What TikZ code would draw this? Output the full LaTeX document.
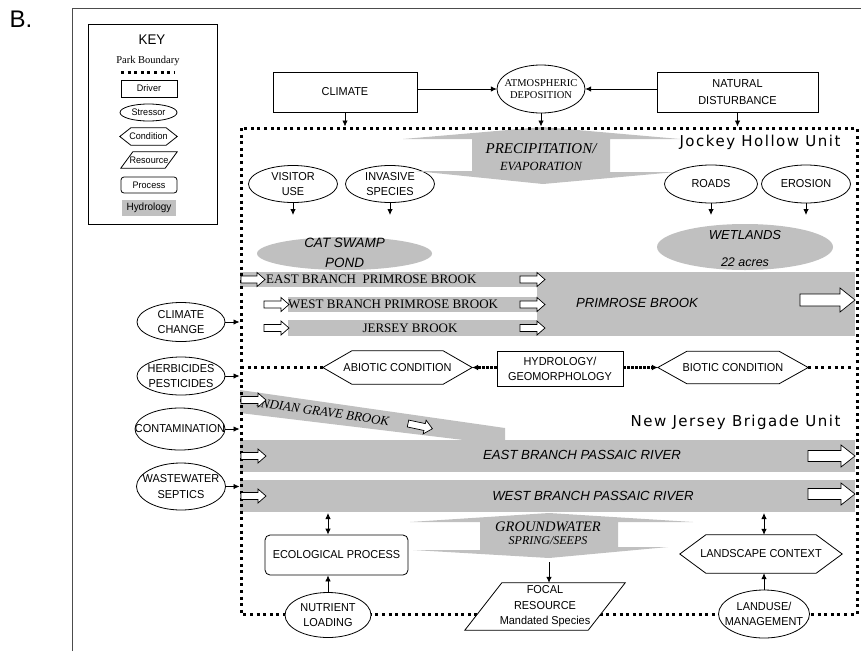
\documentclass[tikz,border=0pt]{standalone}
\usepackage{fontspec}
\setmainfont{Liberation Serif}
\setsansfont{Liberation Sans}
\newfontfamily\labfont[FakeStretch=0.95]{Liberation Sans}
\newfontfamily\unitfont[LetterSpace=10]{DejaVu Sans}
\usetikzlibrary{arrows.meta,calc}
\definecolor{hydro}{RGB}{192,192,192}

\tikzset{
  lab/.style={font=\labfont\fontsize{11.5}{15.5}\selectfont, align=center, inner sep=0pt},
  keylab/.style={font=\labfont\fontsize{9.5}{11}\selectfont},
  outline/.style={draw=black, line width=0.8pt, fill=white},
  driverbox/.style={outline, lab},
  procbox/.style={outline, lab, rounded corners=5pt},
  tip/.style={-{Latex[length=6pt,width=5.5pt]}, line width=0.8pt},
  twotip/.style={{Latex[length=6pt,width=5.5pt]}-{Latex[length=6pt,width=5.5pt]}, line width=0.8pt},
  boundary/.style={line width=3pt, dash pattern=on 3pt off 3.6pt},
  linkdots/.style={line width=2.4pt, dash pattern=on 2.4pt off 1.6pt, -{Latex[length=6pt,width=6pt]}},
  water/.style={fill=hydro, draw=none},
  flowarrow/.style={draw=black, line width=0.7pt, fill=white},
  brook/.style={font=\rmfamily\fontsize{13}{14}\selectfont, inner sep=0pt},
  river/.style={font=\sffamily\itshape\fontsize{13.2}{15}\selectfont, inner sep=0pt},
  pondlab/.style={font=\sffamily\itshape\fontsize{13.5}{20}\selectfont, align=center, inner sep=0pt},
  skylab/.style={font=\rmfamily\itshape\fontsize{15}{17}\selectfont, inner sep=0pt},
  unitlab/.style={font=\unitfont\fontsize{15}{17}\selectfont, inner sep=0pt},
}

% stressor: style, name, cx, cy, rx, ry, text
\newcommand\stressoval[7]{%
  \path[outline] (#3,#4) ellipse [x radius=#5pt, y radius=#6pt];
  \node[lab,#1, minimum width=2*#5pt, minimum height=2*#6pt] (#2) at (#3,#4) {#7};}
% condition: style, name, cx, cy, half width, half height, corner inset, text
\newcommand\condhex[8]{%
  \node[minimum width=2*#5pt, minimum height=2*#6pt, inner sep=0pt] (#2) at (#3,#4) {};
  \path[outline] (#2.west) -- ([xshift=#7pt]#2.north west) -- ([xshift=-#7pt]#2.north east)
    -- (#2.east) -- ([xshift=-#7pt]#2.south east) -- ([xshift=#7pt]#2.south west) -- cycle;
  \node[lab,#1] (#2-text) at (#2.center) {#8};}
% resource: style, name, cx, cy, width, height, slant, text
\newcommand\respara[8]{%
  \node[minimum width=#5pt, minimum height=#6pt, inner sep=0pt] (#2) at (#3,#4) {};
  \path[outline] (#2.south west) -- ([xshift=#7pt]#2.north west) -- (#2.north east)
    -- ([xshift=-#7pt]#2.south east) -- cycle;
  \node[lab,#1] (#2-text) at (#2.center) {#8};}
% hollow flow arrow: x, y, length, head half height, shaft half height, head length, angle
\newcommand\hydroarrow[7]{%
  \draw[flowarrow, shift={(#1,#2)}, rotate=#7] (0,-#5) -- (#3-#6,-#5) -- (#3-#6,-#4)
    -- (#3,0) -- (#3-#6,#4) -- (#3-#6,#5) -- (0,#5) -- cycle;}

\begin{document}
\begin{tikzpicture}[x=1pt,y=-1pt]
\useasboundingbox (0,0) rectangle (861,651);

% panel frame and letter
\draw[line width=1pt, black!70] (72,651) -- (72,8) -- (861,8);
\node[font=\sffamily\fontsize{24}{26}\selectfont, inner sep=0pt] (panel) at (21,19) {B.};

% ---------------- key ----------------
\node[draw, line width=0.8pt, minimum width=129pt, minimum height=200pt, inner sep=0pt] (key) at (152.5,124) {};
\node[font=\labfont\fontsize{14}{16}\selectfont, inner sep=0pt] (keytitle) at (152,40) {KEY};
\node[font=\rmfamily\fontsize{10.5}{12}\selectfont, inner sep=0pt] (keypark) at (148,61) {Park Boundary};
\coordinate (keydotA) at (121,72);
\coordinate (keydotB) at (174,72);
\draw[boundary] (keydotA) -- (keydotB);
\node[driverbox, keylab, minimum width=56pt, minimum height=17pt] (keydriver) at (149,88.5) {Driver};
\stressoval{keylab}{keystress}{148.5}{112.5}{28.5}{8.5}{Stressor}
\condhex{keylab}{keycond}{148.5}{136.5}{28.5}{8.5}{11}{Condition}
\respara{keylab}{keyres}{149}{160}{56}{16}{12}{Resource}
\node[procbox, keylab, rounded corners=3pt, minimum width=56pt, minimum height=16pt] (keyproc) at (149,185) {Process};
\node[water, lab, font=\labfont\fontsize{10.5}{12}\selectfont, minimum width=54pt, minimum height=16pt] (keyhydro) at (149,208) {Hydrology};

% ---------------- drivers above the park ----------------
\node[driverbox, minimum width=144pt, minimum height=40pt] (climate) at (345,92) {CLIMATE};
\node[driverbox, font=\labfont\fontsize{11.5}{17}\selectfont, minimum width=161pt, minimum height=40pt] (natural) at (737.5,92) {NATURAL\\DISTURBANCE};
\stressoval{font=\rmfamily\fontsize{10.5}{12}\selectfont}{atmos}{541}{89}{44}{24}{ATMOSPHERIC\\DEPOSITION}
\draw[tip] (climate.east |- atmos.west) -- (atmos.west);
\draw[tip] (natural.west |- atmos.east) -- (atmos.east);
\coordinate (jhtop) at (0,126.5);
\draw[tip] (climate.south) -- (climate.south |- jhtop);
\draw[tip] (atmos.south) -- (atmos.south |- jhtop);
\draw[tip] (natural.south) -- (natural.south |- jhtop);

% ---------------- stressors inside Jockey Hollow ----------------
\stressoval{}{visitor}{293}{184}{44.5}{18.5}{VISITOR\\USE}
\stressoval{}{invasive}{390}{184}{44.5}{18.5}{INVASIVE\\SPECIES}
\stressoval{}{roads}{711}{184}{46.5}{19}{ROADS}
\stressoval{}{erosion}{806}{184}{44.5}{19}{EROSION}
\coordinate (pondlevel) at (0,215);
\draw[tip] (visitor.south) -- (visitor.south |- pondlevel);
\draw[tip] (invasive.south) -- (invasive.south |- pondlevel);
\draw[tip] (roads.south) -- (roads.south |- pondlevel);
\draw[tip] (erosion.south) -- (erosion.south |- pondlevel);

% precipitation / evaporation
\fill[water] (403,139) -- (543,127) -- (680,139) -- (610,139) -- (610,172) -- (676,172)
  -- (543,184) -- (415,171) -- (472,171) -- (472,139) -- cycle;
\node[skylab] (precip) at (541,149) {PRECIPITATION/};
\node[skylab, font=\rmfamily\itshape\fontsize{12.5}{14}\selectfont] (evap) at (541,166) {EVAPORATION};

% ponds and wetlands
\fill[water] (344.5,253.5) ellipse [x radius=87.5pt, y radius=16.5pt];
\node[pondlab] (catswamp) at (344.5,253) {CAT SWAMP\\POND};
\fill[water] (745,247) ellipse [x radius=88pt, y radius=23pt];
\node[pondlab, font=\sffamily\itshape\fontsize{13}{27}\selectfont] (wetlands) at (745,249) {WETLANDS\\{\fontsize{12.5}{14}\selectfont 22 acres}};

% streams
\fill[water] (240,272) rectangle (537,287);
\fill[water] (288,297) rectangle (537,312);
\fill[water] (288,320) rectangle (537,336);
\fill[water] (537,272) rectangle (855,336);
\fill[water] (240,390) -- (505,428) -- (505,445) -- (240,413) -- cycle;
\fill[water] (240,440) rectangle (855,472);
\fill[water] (240,480) rectangle (855,512);

% groundwater
\fill[water] (410,522) -- (549,513) -- (693,522) -- (618,522) -- (618,547) -- (668,547)
  -- (549,558) -- (413,550) -- (480,550) -- (480,522) -- cycle;
\node[skylab, font=\rmfamily\itshape\fontsize{14.5}{16}\selectfont] (groundw) at (548,526.5) {GROUNDWATER};
\node[skylab, font=\rmfamily\itshape\fontsize{12}{14}\selectfont] (seeps) at (548,540.5) {SPRING/SEEPS};

% ---------------- park boundaries ----------------
\draw[boundary] (241,128) rectangle (857,614);

\node[unitlab] (jhunit) at (760,142) {Jockey Hollow Unit};
\node[unitlab] (njunit) at (735.5,422) {New Jersey Brigade Unit};

% stream labels and flow arrows
\node[brook, anchor=west] (eastpb) at (266,279.5) {EAST BRANCH~~PRIMROSE BROOK};
\node[brook, anchor=west] (westpb) at (288,304.5) {WEST BRANCH PRIMROSE BROOK};
\node[brook] (jerseyb) at (410,328) {JERSEY BROOK};
\node[river] (primrose) at (637,303) {PRIMROSE BROOK};
\node[brook, font=\rmfamily\itshape\fontsize{13}{14}\selectfont, rotate=-8.2] (indian) at (323,412) {INDIAN GRAVE BROOK};
\node[river] (eastpr) at (582,455) {EAST BRANCH PASSAIC RIVER};
\node[river] (westpr) at (593,496) {WEST BRANCH PASSAIC RIVER};

\hydroarrow{241}{279.5}{24}{7}{3.5}{8}{0}
\hydroarrow{264}{304.5}{25}{7}{3.5}{8}{0}
\hydroarrow{264}{328}{25}{7}{3.5}{8}{0}
\hydroarrow{520}{279.5}{25}{7}{3.5}{8}{0}
\hydroarrow{520}{304.5}{25}{7}{3.5}{8}{0}
\hydroarrow{520}{328}{25}{7}{3.5}{8}{0}
\hydroarrow{800}{300}{55}{12}{6}{15}{0}
\hydroarrow{241}{400}{25}{7}{3.5}{8}{0}
\hydroarrow{408}{423.5}{25}{7}{3.5}{8}{-12}
\hydroarrow{241}{456}{25}{7}{3.5}{8}{0}
\hydroarrow{808}{456}{47}{11}{5.5}{14}{0}
\hydroarrow{241}{496}{25}{7}{3.5}{8}{0}
\hydroarrow{808}{494}{47}{11}{5.5}{14}{0}

% ---------------- stressors outside the park ----------------
\stressoval{}{cchange}{181}{322}{44}{19.5}{CLIMATE\\CHANGE}
\stressoval{}{herb}{181}{376}{44}{19}{HERBICIDES\\PESTICIDES}
\stressoval{}{contam}{180}{429}{45}{21}{CONTAMINATION}
\stressoval{}{waste}{181}{486.5}{44.5}{23.5}{WASTEWATER\\SEPTICS}
\coordinate (jhleft) at (239.5,0);
\draw[tip] (cchange.east) -- (cchange.east -| jhleft);
\draw[tip] (herb.east) -- (herb.east -| jhleft);
\draw[tip] (contam.east) -- (contam.east -| jhleft);
\draw[tip] (waste.east) -- (waste.east -| jhleft);

% ---------------- conditions across the middle ----------------
\condhex{}{abio}{397.5}{367.5}{74.5}{16.5}{29}{ABIOTIC CONDITION}
\condhex{}{bio}{733}{367.5}{75}{16}{29}{BIOTIC CONDITION}
\node[driverbox, minimum width=126pt, minimum height=35pt] (hydrogeo) at (560,369) {HYDROLOGY/\\GEOMORPHOLOGY};
\coordinate (unitsplitW) at (241,367.5);
\coordinate (unitsplitE) at (851,367.5);
\draw[boundary] (unitsplitW) -- (abio.west);
\draw[boundary] (bio.east) -- (unitsplitE);
\draw[linkdots] (hydrogeo.west |- abio.east) -- (abio.east);
\draw[linkdots] (hydrogeo.east |- bio.west) -- (bio.west);

% ---------------- processes and resources along the bottom ----------------
\node[procbox, minimum width=143pt, minimum height=40pt] (eco) at (336.5,555) {ECOLOGICAL PROCESS};
\condhex{}{landscape}{761}{554}{81}{19}{26}{LANDSCAPE CONTEXT}
\stressoval{}{nutrient}{328}{615}{43}{22.5}{NUTRIENT\\LOADING}
\stressoval{}{landuse}{764}{614}{45.5}{24}{LANDUSE/\\MANAGEMENT}
\respara{}{focal}{545}{606.5}{160}{47}{37}{FOCAL\\RESOURCE\\Mandated Species}

\coordinate (riverbed) at (0,513);
\draw[twotip] (nutrient.north |- riverbed) -- (nutrient.north |- eco.north);
\draw[tip] (nutrient.north) -- (nutrient.north |- eco.south);
\draw[twotip] (landuse.north |- riverbed) -- (landuse.north |- landscape.north);
\draw[tip] (landuse.north) -- (landuse.north |- landscape.south);
\coordinate (gwtip) at (549,562);
\draw[tip] (gwtip) -- (gwtip |- focal.north);

\end{tikzpicture}
\end{document}
